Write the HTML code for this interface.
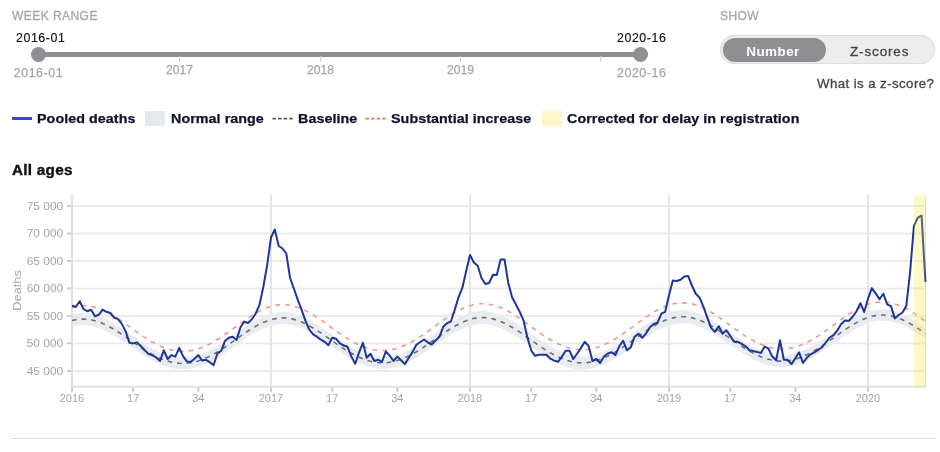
<!DOCTYPE html>
<html><head><meta charset="utf-8"><title>EuroMOMO</title>
<style>
html,body{margin:0;padding:0;background:#fff}
body{width:940px;height:452px;position:relative;overflow:hidden;font-family:"Liberation Sans",sans-serif;color:#111}
.abs{position:absolute;white-space:nowrap}
.cap{font-size:12px;color:#a6a6a6;-webkit-text-stroke:.3px #a6a6a6;letter-spacing:.45px;line-height:12px}
.val{font-size:12.4px;letter-spacing:.55px;color:#111;line-height:13px;-webkit-text-stroke:.15px #111}
.tick{font-size:12.2px;color:#a6a6a6;-webkit-text-stroke:.25px #a6a6a6;line-height:13px}
.tick.e{font-size:12.4px;letter-spacing:.55px}
.leg{font-size:13.5px;letter-spacing:.05px;font-weight:bold;color:#10102a;transform:scaleX(1.06);transform-origin:0 0;-webkit-text-stroke:.25px #10102a;line-height:14px;top:111.6px}
svg text.l{font-family:"Liberation Sans",sans-serif;font-size:11px;fill:#a4a4a4}
svg .g{stroke:#ebebeb;stroke-width:2}
svg .t{stroke:#cacaca;stroke-width:2}
svg .v{stroke:#e5e5e5;stroke-width:2}
</style></head><body>
<div class="abs cap" id="c1" style="left:12px;top:10px">WEEK RANGE</div>
<div class="abs val" id="v1" style="left:16px;top:31.9px">2016-01</div>
<div class="abs val" id="v2" style="left:617px;top:31.9px">2020-16</div>
<div class="abs" style="left:38px;top:52px;width:602px;height:5px;background:#8e8e93"></div>
<div class="abs" style="left:30.8px;top:46.9px;width:15px;height:15px;border-radius:50%;background:#8e8e93"></div>
<div class="abs" style="left:633px;top:46.9px;width:15px;height:15px;border-radius:50%;background:#8e8e93"></div>
<div class="abs" style="left:178.5px;top:56px;width:1.5px;height:5.6px;background:#d2d2d2"></div>
<div class="abs" style="left:319.5px;top:56px;width:1.5px;height:5.6px;background:#d2d2d2"></div>
<div class="abs" style="left:459.5px;top:56px;width:1.5px;height:5.6px;background:#d2d2d2"></div>
<div class="abs" style="left:599.5px;top:56px;width:1.5px;height:5.6px;background:#d2d2d2"></div>
<div class="abs tick e" id="t0" style="left:13.8px;top:67px">2016-01</div>
<div class="abs tick" id="t1" style="left:166px;top:64.1px">2017</div>
<div class="abs tick" id="t2" style="left:307px;top:64.1px">2018</div>
<div class="abs tick" id="t3" style="left:447px;top:64.1px">2019</div>
<div class="abs tick e" id="t4" style="left:617px;top:67px">2020-16</div>

<div class="abs cap" id="c2" style="left:720px;top:10px">SHOW</div>
<div class="abs" style="left:720px;top:35px;width:215px;height:29px;border-radius:15px;background:#ececec;box-shadow:inset 0 0 0 1px #dedede"></div>
<div class="abs" style="left:723px;top:37.5px;width:103px;height:24.5px;border-radius:12.5px;background:#8e8e93"></div>
<div class="abs" id="num" style="left:721.5px;top:38.5px;width:103px;height:24.5px;line-height:25px;text-align:center;color:#fff;font-weight:bold;font-size:13.5px;letter-spacing:.4px"><span id="numt">Number</span></div>
<div class="abs" id="zs" style="left:850px;top:38.7px;height:24.5px;line-height:25px;color:#444;font-size:13.5px;letter-spacing:.85px;-webkit-text-stroke:.3px #444"><span id="zst">Z-scores</span></div>
<div class="abs" id="what" style="left:817px;top:77px;font-size:13.3px;letter-spacing:.4px;color:#444;line-height:14px;-webkit-text-stroke:.3px #444">What is a z-score?</div>

<div class="abs" style="left:12px;top:116.7px;width:20px;height:3.8px;background:#3b4bb8"></div>
<div class="abs leg" id="l1" style="left:37px">Pooled deaths</div>
<div class="abs" style="left:145px;top:111px;width:20px;height:14.5px;background:#e4e9f0"></div>
<div class="abs leg" id="l2" style="left:170.5px">Normal range</div>
<svg class="abs" style="left:272px;top:114.6px" width="22" height="8"><line x1="0.5" x2="21" y1="3.6" y2="3.6" stroke="#555" stroke-width="1.7" stroke-dasharray="3.4 2.2"/></svg>
<div class="abs leg" id="l3" style="left:298px">Baseline</div>
<svg class="abs" style="left:365px;top:114.6px" width="22" height="8"><line x1="0.5" x2="21" y1="3.6" y2="3.6" stroke="#f2706c" stroke-width="1.7" stroke-dasharray="3.4 2.2"/></svg>
<div class="abs leg" id="l4" style="left:391px">Substantial increase</div>
<div class="abs" style="left:542px;top:111px;width:20px;height:14.5px;background:#fdf7c8"></div>
<div class="abs leg" id="l5" style="left:567px">Corrected for delay in registration</div>

<div class="abs" id="title" style="left:12px;top:162px;font-size:14px;letter-spacing:.25px;font-weight:bold;color:#111;line-height:16px;transform:scaleX(1.09);transform-origin:0 0;-webkit-text-stroke:.35px #111">All ages</div>

<svg class="abs" style="left:0;top:0" width="940" height="452" viewBox="0 0 940 452">
<line x1="72" x2="926" y1="206.0" y2="206.0" class="g"/><line x1="72" x2="926" y1="233.5" y2="233.5" class="g"/><line x1="72" x2="926" y1="261.0" y2="261.0" class="g"/><line x1="72" x2="926" y1="288.4" y2="288.4" class="g"/><line x1="72" x2="926" y1="315.9" y2="315.9" class="g"/><line x1="72" x2="926" y1="343.4" y2="343.4" class="g"/><line x1="72" x2="926" y1="370.9" y2="370.9" class="g"/>
<line x1="271.0" x2="271.0" y1="195" y2="386" class="v"/><line x1="470.0" x2="470.0" y1="195" y2="386" class="v"/><line x1="669.0" x2="669.0" y1="195" y2="386" class="v"/><line x1="868.0" x2="868.0" y1="195" y2="386" class="v"/>
<polygon points="72.0,314.4 75.8,313.6 79.7,313.1 83.5,312.9 87.3,313.1 91.1,313.7 95.0,314.5 98.8,315.7 102.6,317.2 106.4,319.0 110.3,321.0 114.1,323.3 117.9,325.7 121.8,328.2 125.6,330.9 129.4,333.5 133.2,336.2 137.1,338.9 140.9,341.5 144.7,344.0 148.5,346.4 152.4,348.6 156.2,350.6 160.0,352.4 163.8,353.9 167.7,355.2 171.5,356.2 175.3,356.9 179.2,357.4 183.0,357.5 186.8,357.3 190.6,356.9 194.5,356.1 198.3,355.1 202.1,353.7 205.9,352.2 209.8,350.3 213.6,348.3 217.4,346.1 221.3,343.7 225.1,341.1 228.9,338.5 232.7,335.8 236.6,333.0 240.4,330.3 244.2,327.6 248.0,325.1 251.9,322.6 255.7,320.4 259.5,318.3 263.4,316.5 267.2,315.0 271.0,313.7 274.8,312.8 278.7,312.2 282.5,312.0 286.3,312.1 290.1,312.6 294.0,313.5 297.8,314.6 301.6,316.1 305.4,317.8 309.3,319.8 313.1,322.0 316.9,324.4 320.8,326.9 324.6,329.5 328.4,332.2 332.2,334.9 336.1,337.6 339.9,340.2 343.7,342.8 347.5,345.2 351.4,347.4 355.2,349.5 359.0,351.3 362.9,352.9 366.7,354.2 370.5,355.3 374.3,356.1 378.2,356.6 382.0,356.7 385.8,356.6 389.6,356.2 393.5,355.5 397.3,354.5 401.1,353.2 404.9,351.7 408.8,349.9 412.6,347.9 416.4,345.7 420.3,343.3 424.1,340.8 427.9,338.1 431.7,335.4 435.6,332.7 439.4,330.0 443.2,327.3 447.0,324.7 450.9,322.2 454.7,319.9 458.5,317.8 462.4,315.9 466.2,314.3 470.0,313.0 473.8,312.0 477.7,311.4 481.5,311.1 485.3,311.2 489.1,311.6 493.0,312.4 496.8,313.5 500.6,314.9 504.5,316.6 508.3,318.5 512.1,320.7 515.9,323.1 519.8,325.6 523.6,328.2 527.4,330.9 531.2,333.6 535.1,336.3 538.9,338.9 542.7,341.5 546.5,343.9 550.4,346.2 554.2,348.3 558.0,350.2 561.9,351.8 565.7,353.2 569.5,354.3 573.3,355.2 577.2,355.7 581.0,356.0 584.8,355.9 588.6,355.5 592.5,354.9 596.3,353.9 600.1,352.7 604.0,351.2 607.8,349.4 611.6,347.5 615.4,345.3 619.3,342.9 623.1,340.4 626.9,337.8 630.7,335.1 634.6,332.3 638.4,329.6 642.2,326.9 646.0,324.3 649.9,321.7 653.7,319.4 657.5,317.2 661.4,315.3 665.2,313.7 669.0,312.3 672.8,311.3 676.7,310.6 680.5,310.2 684.3,310.2 688.1,310.6 692.0,311.3 695.8,312.4 699.6,313.7 703.5,315.4 707.3,317.3 711.1,319.4 714.9,321.8 718.8,324.2 722.6,326.9 726.4,329.5 730.2,332.3 734.1,335.0 737.9,337.6 741.7,340.2 745.6,342.7 749.4,345.0 753.2,347.1 757.0,349.1 760.9,350.8 764.7,352.2 768.5,353.4 772.3,354.3 776.2,354.9 780.0,355.2 783.8,355.2 787.6,354.8 791.5,354.2 795.3,353.3 799.1,352.1 803.0,350.7 806.8,349.0 810.6,347.0 814.4,344.9 818.3,342.5 822.1,340.1 825.9,337.4 829.7,334.7 833.6,332.0 837.4,329.2 841.2,326.5 845.1,323.9 848.9,321.3 852.7,318.9 856.5,316.7 860.4,314.8 864.2,313.1 868.0,311.6 871.8,310.5 875.7,309.8 879.5,309.4 883.3,309.3 887.2,309.6 891.0,310.2 894.8,311.2 898.6,312.5 902.5,314.1 906.3,316.0 910.1,318.1 913.9,320.4 917.8,322.9 921.6,325.5 925.4,328.2 925.4,338.8 921.6,336.2 917.8,333.7 913.9,331.4 910.1,329.2 906.3,327.1 902.5,325.3 898.6,323.8 894.8,322.6 891.0,321.6 887.2,321.0 883.3,320.7 879.5,320.8 875.7,321.3 871.8,322.1 868.0,323.3 864.2,324.7 860.4,326.5 856.5,328.4 852.7,330.6 848.9,333.0 845.1,335.5 841.2,338.2 837.4,340.9 833.6,343.6 829.7,346.3 825.9,349.0 822.1,351.6 818.3,354.1 814.4,356.4 810.6,358.6 806.8,360.5 803.0,362.2 799.1,363.7 795.3,365.0 791.5,365.9 787.6,366.6 783.8,367.0 780.0,367.0 776.2,366.7 772.3,366.1 768.5,365.2 764.7,364.1 760.9,362.6 757.0,361.0 753.2,359.1 749.4,357.0 745.6,354.8 741.7,352.4 737.9,349.9 734.1,347.3 730.2,344.7 726.4,342.0 722.6,339.4 718.8,336.9 714.9,334.5 711.1,332.2 707.3,330.1 703.5,328.3 699.6,326.7 695.8,325.3 692.0,324.3 688.1,323.6 684.3,323.2 680.5,323.3 676.7,323.7 672.8,324.5 669.0,325.6 665.2,327.0 661.4,328.7 657.5,330.6 653.7,332.8 649.9,335.1 646.0,337.6 642.2,340.3 638.4,343.0 634.6,345.7 630.7,348.4 626.9,351.1 623.1,353.7 619.3,356.3 615.4,358.6 611.6,360.8 607.8,362.8 604.0,364.6 600.1,366.1 596.3,367.4 592.5,368.4 588.6,369.2 584.8,369.6 581.0,369.8 577.2,369.4 573.3,368.8 569.5,367.9 565.7,366.7 561.9,365.3 558.0,363.6 554.2,361.7 550.4,359.5 546.5,357.2 542.7,354.8 538.9,352.2 535.1,349.6 531.2,346.9 527.4,344.2 523.6,341.5 519.8,338.8 515.9,336.3 512.1,333.9 508.3,331.7 504.5,329.8 500.6,328.0 496.8,326.6 493.0,325.4 489.1,324.5 485.3,324.0 481.5,323.9 477.7,324.2 473.8,324.8 470.0,325.8 466.2,327.1 462.4,328.7 458.5,330.5 454.7,332.6 450.9,334.9 447.0,337.3 443.2,339.9 439.4,342.5 435.6,345.2 431.7,347.8 427.9,350.5 424.1,353.1 420.3,355.5 416.4,357.9 412.6,360.0 408.8,362.0 404.9,363.8 401.1,365.3 397.3,366.6 393.5,367.6 389.6,368.3 385.8,368.8 382.0,368.9 378.2,368.7 374.3,368.1 370.5,367.3 366.7,366.2 362.9,364.8 359.0,363.2 355.2,361.3 351.4,359.3 347.5,357.0 343.7,354.6 339.9,352.1 336.1,349.5 332.2,346.8 328.4,344.2 324.6,341.5 320.8,338.9 316.9,336.4 313.1,334.0 309.3,331.8 305.4,329.8 301.6,328.0 297.8,326.6 294.0,325.4 290.1,324.5 286.3,323.9 282.5,323.7 278.7,324.0 274.8,324.6 271.0,325.6 267.2,326.9 263.4,328.4 259.5,330.2 255.7,332.3 251.9,334.6 248.0,337.0 244.2,339.5 240.4,342.2 236.6,344.9 232.7,347.6 228.9,350.2 225.1,352.9 221.3,355.4 217.4,357.8 213.6,360.0 209.8,362.0 205.9,363.9 202.1,365.5 198.3,366.8 194.5,367.9 190.6,368.7 186.8,369.2 183.0,369.5 179.2,369.3 175.3,368.8 171.5,368.1 167.7,367.0 163.8,365.7 160.0,364.2 156.2,362.4 152.4,360.4 148.5,358.3 144.7,355.9 140.9,353.5 137.1,350.9 133.2,348.3 129.4,345.7 125.6,343.0 121.8,340.4 117.9,338.0 114.1,335.6 110.3,333.4 106.4,331.4 102.6,329.6 98.8,328.1 95.0,326.9 91.1,326.0 87.3,325.4 83.5,325.2 79.7,325.3 75.8,325.8 72.0,326.6" fill="#e8ecf1"/>
<line x1="72" x2="72" y1="195" y2="387.7" stroke="#dedede" stroke-width="2"/>
<line x1="71" x2="926" y1="386.7" y2="386.7" stroke="#e2e2e2" stroke-width="2"/>
<line x1="67" x2="71" y1="206.0" y2="206.0" class="t"/><line x1="67" x2="71" y1="233.5" y2="233.5" class="t"/><line x1="67" x2="71" y1="261.0" y2="261.0" class="t"/><line x1="67" x2="71" y1="288.4" y2="288.4" class="t"/><line x1="67" x2="71" y1="315.9" y2="315.9" class="t"/><line x1="67" x2="71" y1="343.4" y2="343.4" class="t"/><line x1="67" x2="71" y1="370.9" y2="370.9" class="t"/><line x1="72.0" x2="72.0" y1="387.5" y2="391.8" class="t"/><line x1="133.2" x2="133.2" y1="387.5" y2="391.8" class="t"/><line x1="198.3" x2="198.3" y1="387.5" y2="391.8" class="t"/><line x1="271.0" x2="271.0" y1="387.5" y2="391.8" class="t"/><line x1="332.2" x2="332.2" y1="387.5" y2="391.8" class="t"/><line x1="397.3" x2="397.3" y1="387.5" y2="391.8" class="t"/><line x1="470.0" x2="470.0" y1="387.5" y2="391.8" class="t"/><line x1="531.2" x2="531.2" y1="387.5" y2="391.8" class="t"/><line x1="596.3" x2="596.3" y1="387.5" y2="391.8" class="t"/><line x1="669.0" x2="669.0" y1="387.5" y2="391.8" class="t"/><line x1="730.2" x2="730.2" y1="387.5" y2="391.8" class="t"/><line x1="795.3" x2="795.3" y1="387.5" y2="391.8" class="t"/><line x1="868.0" x2="868.0" y1="387.5" y2="391.8" class="t"/>
<line x1="925.6" x2="925.6" y1="195" y2="387.6" stroke="#dcdce4" stroke-width="1"/>
<polyline points="72.0,320.5 75.8,319.7 79.7,319.2 83.5,319.0 87.3,319.3 91.1,319.8 95.0,320.7 98.8,321.9 102.6,323.4 106.4,325.2 110.3,327.2 114.1,329.4 117.9,331.8 121.8,334.3 125.6,336.9 129.4,339.6 133.2,342.3 137.1,344.9 140.9,347.5 144.7,350.0 148.5,352.3 152.4,354.5 156.2,356.5 160.0,358.3 163.8,359.8 167.7,361.1 171.5,362.1 175.3,362.9 179.2,363.3 183.0,363.5 186.8,363.3 190.6,362.8 194.5,362.0 198.3,360.9 202.1,359.6 205.9,358.0 209.8,356.2 213.6,354.1 217.4,351.9 221.3,349.5 225.1,347.0 228.9,344.4 232.7,341.7 236.6,338.9 240.4,336.2 244.2,333.6 248.0,331.0 251.9,328.6 255.7,326.3 259.5,324.3 263.4,322.5 267.2,320.9 271.0,319.7 274.8,318.7 278.7,318.1 282.5,317.9 286.3,318.0 290.1,318.6 294.0,319.4 297.8,320.6 301.6,322.0 305.4,323.8 309.3,325.8 313.1,328.0 316.9,330.4 320.8,332.9 324.6,335.5 328.4,338.2 332.2,340.9 336.1,343.6 339.9,346.2 343.7,348.7 347.5,351.1 351.4,353.3 355.2,355.4 359.0,357.2 362.9,358.8 366.7,360.2 370.5,361.3 374.3,362.1 378.2,362.6 382.0,362.8 385.8,362.7 389.6,362.3 393.5,361.5 397.3,360.5 401.1,359.3 404.9,357.7 408.8,356.0 412.6,354.0 416.4,351.8 420.3,349.4 424.1,346.9 427.9,344.3 431.7,341.6 435.6,338.9 439.4,336.2 443.2,333.6 447.0,331.0 450.9,328.5 454.7,326.2 458.5,324.2 462.4,322.3 466.2,320.7 470.0,319.4 473.8,318.4 477.7,317.8 481.5,317.5 485.3,317.6 489.1,318.1 493.0,318.9 496.8,320.0 500.6,321.5 504.5,323.2 508.3,325.1 512.1,327.3 515.9,329.7 519.8,332.2 523.6,334.8 527.4,337.5 531.2,340.2 535.1,342.9 538.9,345.6 542.7,348.1 546.5,350.6 550.4,352.9 554.2,355.0 558.0,356.9 561.9,358.5 565.7,360.0 569.5,361.1 573.3,362.0 577.2,362.6 581.0,362.9 584.8,362.8 588.6,362.4 592.5,361.7 596.3,360.7 600.1,359.4 604.0,357.9 607.8,356.1 611.6,354.1 615.4,351.9 619.3,349.6 623.1,347.1 626.9,344.5 630.7,341.8 634.6,339.0 638.4,336.3 642.2,333.6 646.0,330.9 649.9,328.4 653.7,326.1 657.5,323.9 661.4,322.0 665.2,320.3 669.0,319.0 672.8,317.9 676.7,317.1 680.5,316.7 684.3,316.7 688.1,317.1 692.0,317.8 695.8,318.8 699.6,320.2 703.5,321.8 707.3,323.7 711.1,325.8 714.9,328.1 718.8,330.6 722.6,333.2 726.4,335.8 730.2,338.5 734.1,341.1 737.9,343.8 741.7,346.3 745.6,348.7 749.4,351.0 753.2,353.1 757.0,355.0 760.9,356.7 764.7,358.1 768.5,359.3 772.3,360.2 776.2,360.8 780.0,361.1 783.8,361.1 787.6,360.7 791.5,360.1 795.3,359.1 799.1,357.9 803.0,356.5 806.8,354.7 810.6,352.8 814.4,350.6 818.3,348.3 822.1,345.8 825.9,343.2 829.7,340.5 833.6,337.8 837.4,335.1 841.2,332.3 845.1,329.7 848.9,327.2 852.7,324.8 856.5,322.6 860.4,320.6 864.2,318.9 868.0,317.5 871.8,316.3 875.7,315.6 879.5,315.1 883.3,315.0 887.2,315.3 891.0,315.9 894.8,316.9 898.6,318.2 902.5,319.7 906.3,321.6 910.1,323.6 913.9,325.9 917.8,328.3 921.6,330.9 925.4,333.5" fill="none" stroke="#6e6e6e" stroke-width="1.6" stroke-dasharray="4.7 5"/>
<polyline points="72.0,307.1 75.8,306.3 79.7,305.8 83.5,305.6 87.3,305.8 91.1,306.3 95.0,307.3 98.8,308.5 102.6,310.0 106.4,311.8 110.3,313.9 114.1,316.2 117.9,318.7 121.8,321.3 125.6,324.0 129.4,326.7 133.2,329.5 137.1,332.2 140.9,334.9 144.7,337.4 148.5,339.9 152.4,342.1 156.2,344.2 160.0,346.0 163.8,347.6 167.7,348.9 171.5,349.9 175.3,350.7 179.2,351.1 183.0,351.3 186.8,351.1 190.6,350.6 194.5,349.8 198.3,348.8 202.1,347.4 205.9,345.8 209.8,343.9 213.6,341.8 217.4,339.5 221.3,337.1 225.1,334.5 228.9,331.8 232.7,329.0 236.6,326.2 240.4,323.4 244.2,320.7 248.0,318.0 251.9,315.5 255.7,313.2 259.5,311.1 263.4,309.3 267.2,307.7 271.0,306.4 274.8,305.5 278.7,304.9 282.5,304.7 286.3,304.8 290.1,305.3 294.0,306.1 297.8,307.3 301.6,308.8 305.4,310.6 309.3,312.6 313.1,314.9 316.9,317.3 320.8,319.9 324.6,322.6 328.4,325.4 332.2,328.1 336.1,330.9 339.9,333.6 343.7,336.2 347.5,338.6 351.4,340.9 355.2,343.0 359.0,344.9 362.9,346.5 366.7,347.9 370.5,349.0 374.3,349.8 378.2,350.3 382.0,350.5 385.8,350.4 389.6,349.9 393.5,349.2 397.3,348.2 401.1,346.9 404.9,345.3 408.8,343.5 412.6,341.4 416.4,339.1 420.3,336.7 424.1,334.1 427.9,331.4 431.7,328.6 435.6,325.8 439.4,323.0 443.2,320.3 447.0,317.6 450.9,315.1 454.7,312.7 458.5,310.6 462.4,308.7 466.2,307.0 470.0,305.7 473.8,304.7 477.7,304.1 481.5,303.8 485.3,303.8 489.1,304.3 493.0,305.0 496.8,306.2 500.6,307.6 504.5,309.3 508.3,311.3 512.1,313.6 515.9,316.0 519.8,318.6 523.6,321.2 527.4,324.0 531.2,326.8 535.1,329.5 538.9,332.2 542.7,334.9 546.5,337.4 550.4,339.7 554.2,341.8 558.0,343.8 561.9,345.4 565.7,346.9 569.5,348.0 573.3,348.9 577.2,349.4 581.0,349.7 584.8,349.6 588.6,349.2 592.5,348.6 596.3,347.6 600.1,346.3 604.0,344.8 607.8,343.0 611.6,341.0 615.4,338.7 619.3,336.3 623.1,333.7 626.9,331.1 630.7,328.3 634.6,325.5 638.4,322.7 642.2,319.9 646.0,317.2 649.9,314.6 653.7,312.2 657.5,310.0 661.4,308.1 665.2,306.4 669.0,305.0 672.8,303.9 676.7,303.2 680.5,302.9 684.3,302.9 688.1,303.2 692.0,303.9 695.8,305.0 699.6,306.4 703.5,308.1 707.3,310.1 711.1,312.2 714.9,314.6 718.8,317.2 722.6,319.9 726.4,322.6 730.2,325.4 734.1,328.2 737.9,330.9 741.7,333.6 745.6,336.1 749.4,338.5 753.2,340.6 757.0,342.6 760.9,344.3 764.7,345.8 768.5,347.0 772.3,347.9 776.2,348.5 780.0,348.8 783.8,348.8 787.6,348.5 791.5,347.9 795.3,347.0 799.1,345.8 803.0,344.3 806.8,342.5 810.6,340.5 814.4,338.3 818.3,335.9 822.1,333.4 825.9,330.7 829.7,327.9 833.6,325.1 837.4,322.3 841.2,319.5 845.1,316.8 848.9,314.2 852.7,311.7 856.5,309.5 860.4,307.5 864.2,305.7 868.0,304.3 871.8,303.2 875.7,302.4 879.5,302.0 883.3,301.9 887.2,302.2 891.0,302.9 894.8,303.9 898.6,305.2 902.5,306.9 906.3,308.8 910.1,310.9 913.9,313.3 917.8,315.8 921.6,318.5 925.4,321.2" fill="none" stroke="#f69393" stroke-width="1.6" stroke-dasharray="4.6 5.3"/>
<polyline points="72.0,305.8 75.8,307.0 79.7,301.2 83.5,309.0 87.3,311.2 91.1,309.7 95.0,316.2 98.8,314.8 102.6,309.7 106.4,311.8 110.3,313.0 114.1,317.5 117.9,319.0 121.8,323.9 125.6,331.1 129.4,342.8 133.2,343.4 137.1,342.4 140.9,346.3 144.7,350.3 148.5,353.9 152.4,355.4 156.2,357.4 160.0,361.0 163.8,350.3 167.7,359.0 171.5,355.1 175.3,356.6 179.2,347.9 183.0,356.2 186.8,361.4 190.6,361.9 194.5,358.7 198.3,355.1 202.1,360.6 205.9,359.8 209.8,362.2 213.6,365.1 217.4,353.5 221.3,350.7 225.1,340.7 228.9,337.8 232.7,336.7 236.6,339.9 240.4,327.5 244.2,321.8 248.0,323.0 251.9,319.2 255.7,313.5 259.5,304.8 263.4,286.5 267.2,265.0 271.0,237.5 274.8,229.5 278.7,246.0 282.5,248.5 286.3,253.5 290.1,278.0 294.0,289.0 297.8,299.8 301.6,309.9 305.4,320.7 309.3,329.5 313.1,334.3 316.9,336.7 320.8,339.6 324.6,341.8 328.4,345.2 332.2,337.7 336.1,338.8 339.9,343.4 343.7,345.5 347.5,346.8 351.4,356.6 355.2,363.8 359.0,352.7 362.9,342.8 366.7,357.8 370.5,353.8 374.3,361.0 378.2,359.8 382.0,361.9 385.8,351.5 389.6,355.5 393.5,361.0 397.3,356.6 401.1,360.3 404.9,364.1 408.8,357.8 412.6,351.9 416.4,344.8 420.3,342.0 424.1,339.5 427.9,342.5 431.7,344.5 435.6,340.5 439.4,336.8 443.2,326.8 447.0,323.2 450.9,321.5 454.7,310.0 458.5,297.3 462.4,287.7 466.2,271.0 470.0,255.0 473.8,262.5 477.7,265.8 481.5,278.0 485.3,284.0 489.1,283.0 493.0,274.8 496.8,275.0 500.6,259.5 504.5,259.5 508.3,283.0 512.1,297.3 515.9,304.5 519.8,312.0 523.6,320.7 527.4,337.5 531.2,350.3 535.1,355.8 538.9,354.7 542.7,354.7 546.5,354.7 550.4,358.7 554.2,360.6 558.0,361.8 561.9,356.6 565.7,350.7 569.5,350.7 573.3,359.0 577.2,353.5 581.0,347.9 584.8,341.8 588.6,346.0 592.5,361.0 596.3,359.0 600.1,363.0 604.0,356.6 607.8,353.5 611.6,352.2 615.4,355.1 619.3,346.3 623.1,340.7 626.9,350.3 630.7,347.4 634.6,336.7 638.4,333.8 642.2,337.8 646.0,333.5 649.9,327.2 653.7,324.0 657.5,322.8 661.4,313.7 665.2,311.8 669.0,295.3 672.8,280.6 676.7,281.0 680.5,279.8 684.3,276.5 688.1,275.9 692.0,285.7 695.8,293.7 699.6,297.7 703.5,306.8 707.3,317.7 711.1,327.9 714.9,331.9 718.8,326.3 722.6,333.8 726.4,330.3 730.2,335.9 734.1,341.8 737.9,341.8 741.7,343.9 745.6,346.3 749.4,350.3 753.2,351.1 757.0,351.9 760.9,353.0 764.7,346.6 768.5,348.7 772.3,356.6 776.2,360.3 780.0,340.2 783.8,359.8 787.6,359.8 791.5,364.1 795.3,358.2 799.1,352.3 803.0,363.0 806.8,357.8 810.6,354.3 814.4,352.3 818.3,349.8 822.1,347.1 825.9,342.3 829.7,337.5 833.6,335.1 837.4,330.3 841.2,324.0 845.1,320.5 848.9,320.8 852.7,316.8 856.5,311.2 860.4,303.2 864.2,312.0 868.0,298.8 871.8,288.1 875.7,293.4 879.5,299.3 883.3,293.7 887.2,304.5 891.0,306.1 894.8,318.4 898.6,315.0 902.5,312.5 906.3,306.0 910.1,272.0 913.9,226.0 917.8,217.7 921.6,215.6 925.4,282.0" fill="none" stroke="#1f3598" stroke-width="2" stroke-linejoin="round"/>
<rect x="914" y="195" width="11.2" height="192.5" fill="#f7e327" fill-opacity=".25"/>
<g transform="translate(63.2,209.7) scale(1.085,1)"><text x="0" y="0" text-anchor="end" class="l">75 000</text></g><g transform="translate(63.2,237.2) scale(1.085,1)"><text x="0" y="0" text-anchor="end" class="l">70 000</text></g><g transform="translate(63.2,264.7) scale(1.085,1)"><text x="0" y="0" text-anchor="end" class="l">65 000</text></g><g transform="translate(63.2,292.1) scale(1.085,1)"><text x="0" y="0" text-anchor="end" class="l">60 000</text></g><g transform="translate(63.2,319.6) scale(1.085,1)"><text x="0" y="0" text-anchor="end" class="l">55 000</text></g><g transform="translate(63.2,347.1) scale(1.085,1)"><text x="0" y="0" text-anchor="end" class="l">50 000</text></g><g transform="translate(63.2,374.6) scale(1.085,1)"><text x="0" y="0" text-anchor="end" class="l">45 000</text></g><text x="72.0" y="402.4" text-anchor="middle" class="l">2016</text><text x="133.2" y="402.4" text-anchor="middle" class="l">17</text><text x="198.3" y="402.4" text-anchor="middle" class="l">34</text><text x="271.0" y="402.4" text-anchor="middle" class="l">2017</text><text x="332.2" y="402.4" text-anchor="middle" class="l">17</text><text x="397.3" y="402.4" text-anchor="middle" class="l">34</text><text x="470.0" y="402.4" text-anchor="middle" class="l">2018</text><text x="531.2" y="402.4" text-anchor="middle" class="l">17</text><text x="596.3" y="402.4" text-anchor="middle" class="l">34</text><text x="669.0" y="402.4" text-anchor="middle" class="l">2019</text><text x="730.2" y="402.4" text-anchor="middle" class="l">17</text><text x="795.3" y="402.4" text-anchor="middle" class="l">34</text><text x="868.0" y="402.4" text-anchor="middle" class="l">2020</text>
<text transform="translate(21,290.4) rotate(-90) scale(1.166,1)" text-anchor="middle" class="l">Deaths</text>
</svg>
<div class="abs" style="left:12px;top:438px;width:924px;height:1px;background:#ddd"></div>
</body></html>
